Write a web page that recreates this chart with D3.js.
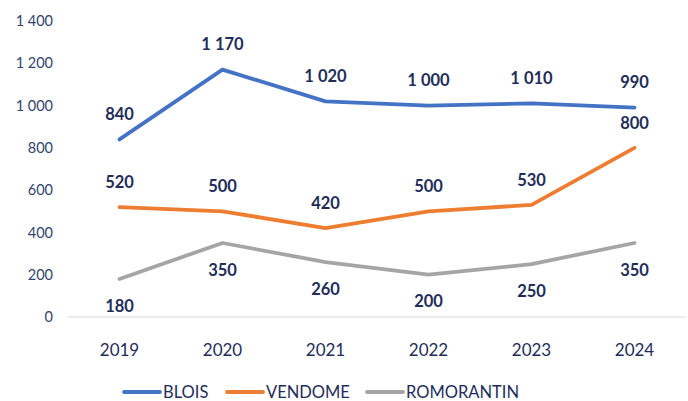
<!DOCTYPE html>
<html>
<head>
<meta charset="utf-8">
<script src="https://cdn.jsdelivr.net/npm/d3@7"></script>
<style>
  body { margin: 0; background: #fff; }
  svg { display: block; font-family: Lato, "Open Sans", sans-serif; }
</style>
</head>
<body>
<div id="chart"></div>
<script>
// chart data
const years = ["2019", "2020", "2021", "2022", "2023", "2024"];
const blois = [840, 1170, 1020, 1000, 1010, 990];
const vendome = [520, 500, 420, 500, 530, 800];
const romorantin = [180, 350, 260, 200, 250, 350];
const seriesNames = ["BLOIS", "VENDOME", "ROMORANTIN"];
const yTicks = [0, 200, 400, 600, 800, 1000, 1200, 1400];

const width = 688, height = 401;
const margin = { top: 21, right: 2, bottom: 84, left: 68 };

const svg = d3.select("#chart").append("svg")
    .attr("width", width)
    .attr("height", height);

// french style number format: 1 170
const fr = d3.formatLocale({ decimal: ",", thousands: " ", grouping: [3], currency: ["", " €"] });
const fmt = fr.format(",d");

const x = d3.scalePoint()
    .domain(years)
    .range([margin.left, width - margin.right])
    .padding(0.5);

const y = d3.scaleLinear()
    .domain([0, 1400])
    .range([height - margin.bottom, margin.top]);

const series = [
    { name: seriesNames[0], values: blois, color: "#4472C4", labelDy: -25 },
    { name: seriesNames[1], values: vendome, color: "#ED7D31", labelDy: -25 },
    { name: seriesNames[2], values: romorantin, color: "#A5A5A5", labelDy: 27 }
];

// y axis labels (no axis line)
svg.append("g")
    .selectAll("text")
    .data(yTicks)
    .join("text")
    .attr("x", 53)
    .attr("y", d => y(d))
    .attr("dy", "0.35em")
    .attr("text-anchor", "end")
    .style("font-size", "14.5px")
    .style("fill", "#33446E")
    .text(d => fmt(d));

// baseline
svg.append("line")
    .attr("x1", margin.left)
    .attr("x2", width - margin.right)
    .attr("y1", y(0))
    .attr("y2", y(0))
    .attr("stroke", "#D9D9D9")
    .attr("stroke-width", 1.2);

// x labels
svg.append("g")
    .selectAll("text")
    .data(years)
    .join("text")
    .attr("x", d => x(d))
    .attr("y", 350)
    .attr("dy", "0.35em")
    .attr("text-anchor", "middle")
    .style("font-size", "17px")
    .style("fill", "#1F2D5A")
    .text(d => d);

const line = d3.line()
    .x((d, i) => x(years[i]))
    .y(d => y(d));

series.forEach(s => {
    svg.append("path")
        .datum(s.values)
        .attr("d", line)
        .attr("fill", "none")
        .attr("stroke", s.color)
        .attr("stroke-width", 3.8)
        .attr("stroke-linejoin", "round")
        .attr("stroke-linecap", "round");
});

// data labels
series.forEach(s => {
    svg.append("g")
        .selectAll("text")
        .data(s.values)
        .join("text")
        .attr("x", (d, i) => x(years[i]))
        .attr("y", d => y(d) + s.labelDy)
        .attr("dy", "0.35em")
        .attr("text-anchor", "middle")
        .style("font-size", "16.5px")
        .style("font-weight", "bold")
        .style("fill", "#1F2D5A")
        .text(d => fmt(d));
});

// legend
const legendX = [124, 227, 367];
const legend = svg.append("g")
    .selectAll("g")
    .data(series)
    .join("g")
    .attr("transform", (d, i) => `translate(${legendX[i]},392)`);

legend.append("line")
    .attr("x1", 0)
    .attr("x2", 36)
    .attr("stroke", d => d.color)
    .attr("stroke-width", 3.8)
    .attr("stroke-linecap", "round");

legend.append("text")
    .attr("x", 39)
    .attr("dy", "0.35em")
    .style("font-size", "16.5px")
    .style("fill", "#1F2D5A")
    .text(d => d.name);
</script>
</body>
</html>
